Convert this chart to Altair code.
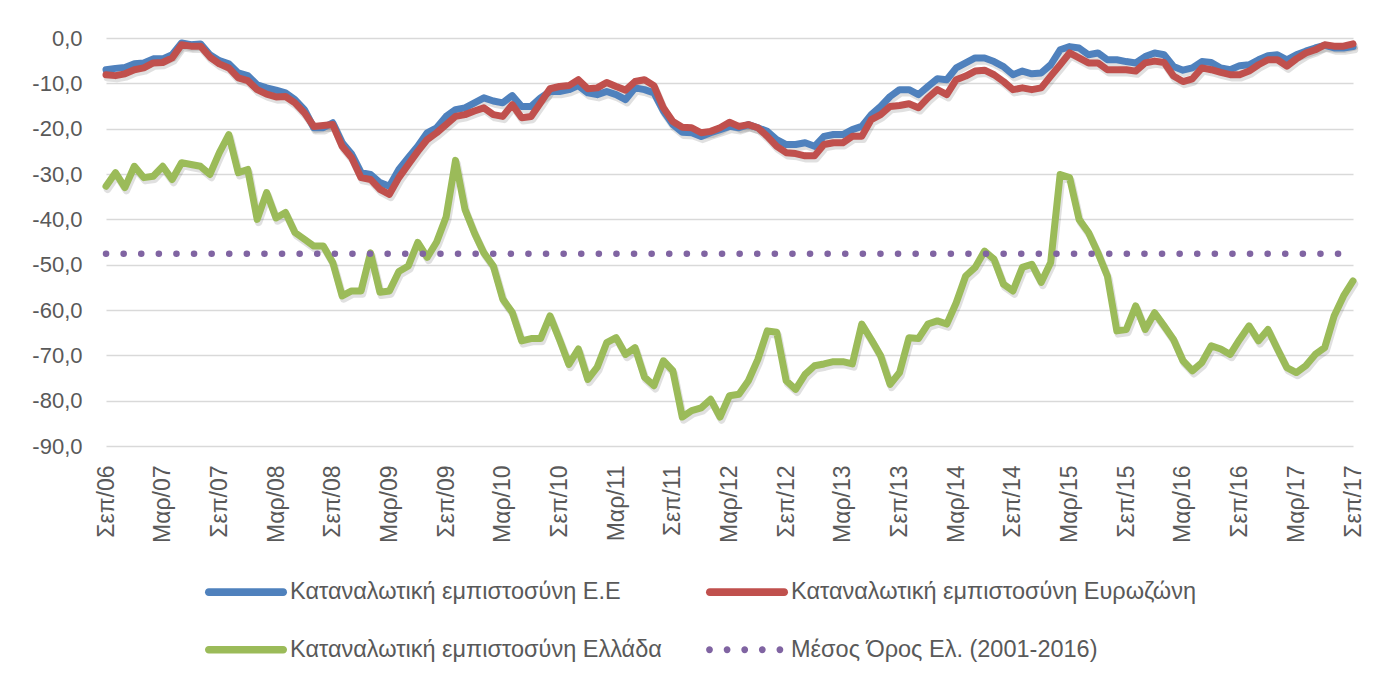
import altair as alt
import pandas as pd

FONT = "'Liberation Sans', sans-serif"
TEXT_COLOR = "#595959"
GRID_COLOR = "#d9d9d9"

# --- categories (monthly, Sep 2006 .. Sep 2017) ---
MONTH_NAMES = ["Ιαν", "Φεβ", "Μαρ", "Απρ", "Μαϊ", "Ιουν", "Ιουλ", "Αυγ", "Σεπ", "Οκτ", "Νοε", "Δεκ"]
START_MONTH_INDEX = 8   # September
START_YEAR = 2006
N_MONTHS = 133
months = [f"{MONTH_NAMES[(START_MONTH_INDEX + i) % 12]}/{(START_YEAR + (START_MONTH_INDEX + i) // 12) % 100:02d}"
          for i in range(N_MONTHS)]
tick_labels = months[::6]

# --- series names ---
S_EU = "Καταναλωτική εμπιστοσύνη Ε.Ε"
S_EA = "Καταναλωτική εμπιστοσύνη Ευρωζώνη"
S_GR = "Καταναλωτική εμπιστοσύνη Ελλάδα"
S_MEAN = "Μέσος Όρος Ελ. (2001-2016)"
SERIES = [S_EU, S_EA, S_GR, S_MEAN]
COLORS = ["#4f81bd", "#c0504d", "#9bbb59", "#8064a2"]

# --- values ---
eu = [-7.0, -6.7, -6.5, -5.7, -5.5, -4.6, -4.6, -3.7, -1.1, -1.5,
      -1.3, -3.7, -5.0, -5.7, -7.7, -8.3, -10.3, -11.0, -11.5, -12.1,
      -13.6, -15.8, -19.8, -19.8, -18.7, -23.1, -25.6, -29.7, -30.1, -31.9,
      -32.7, -29.0, -26.4, -23.9, -20.9, -19.8, -17.3, -15.8, -15.4, -14.3,
      -13.2, -13.9, -14.3, -12.7, -15.1, -15.1, -13.2, -11.8, -11.8, -11.4,
      -10.5, -12.1, -12.5, -11.8, -12.5, -13.6, -11.0, -11.4, -12.1, -16.1,
      -19.1, -20.8, -20.9, -21.7, -20.9, -20.2, -19.5, -19.8, -19.1, -19.8,
      -20.6, -22.4, -23.5, -23.5, -23.1, -23.9, -21.7, -21.3, -21.3, -20.2,
      -19.5, -16.9, -15.1, -12.9, -11.4, -11.4, -12.5, -10.7, -9.0, -9.2,
      -6.6, -5.5, -4.4, -4.4, -5.2, -6.3, -8.1, -7.3, -7.9, -7.7,
      -5.9, -2.6, -1.9, -2.2, -3.7, -3.3, -4.8, -4.8, -5.2, -5.5,
      -4.1, -3.3, -3.7, -6.3, -7.1, -6.6, -5.2, -5.4, -6.6, -7.0,
      -6.1, -5.9, -4.8, -3.9, -3.7, -4.8, -3.7, -2.9, -2.2, -1.6,
      -2.2, -2.2, -1.9]

ea = [-8.1, -8.3, -7.9, -7.0, -6.6, -5.5, -5.4, -4.4, -1.5, -1.8,
      -1.8, -4.2, -5.7, -6.6, -8.8, -9.4, -11.4, -12.4, -13.0, -12.9,
      -14.3, -16.5, -19.5, -19.3, -19.1, -23.9, -26.4, -30.8, -31.2, -33.4,
      -34.5, -30.8, -27.9, -25.0, -22.4, -20.9, -19.1, -17.3, -16.9, -16.1,
      -15.4, -16.9, -17.3, -14.7, -17.6, -17.3, -14.3, -11.2, -10.7, -10.5,
      -9.2, -11.2, -11.0, -9.8, -10.7, -11.5, -9.6, -9.2, -10.5, -15.4,
      -18.4, -19.7, -19.8, -20.9, -20.6, -19.8, -18.6, -19.5, -19.1, -19.8,
      -21.7, -23.9, -25.3, -25.5, -26.0, -26.0, -23.5, -23.1, -23.1, -21.7,
      -21.7, -18.0, -16.9, -15.1, -14.9, -14.5, -15.4, -13.2, -11.4, -12.5,
      -9.2, -8.4, -7.3, -7.1, -8.1, -9.6, -11.4, -11.0, -11.4, -11.0,
      -8.4, -5.9, -3.3, -4.4, -5.5, -5.5, -7.0, -7.0, -7.0, -7.3,
      -5.5, -5.1, -5.4, -8.4, -9.6, -9.0, -6.6, -7.0, -7.6, -8.1,
      -8.1, -7.3, -5.9, -4.8, -4.8, -6.2, -4.6, -3.3, -2.6, -1.5,
      -1.8, -1.8, -1.3]

gr = [-32.7, -29.7, -33.0, -28.3, -30.8, -30.5, -28.3, -31.2, -27.5, -27.9,
      -28.3, -30.1, -25.3, -21.3, -29.7, -29.0, -40.0, -34.1, -39.7, -38.5,
      -42.9, -44.4, -45.9, -45.9, -49.5, -56.9, -55.8, -55.8, -47.4, -56.1,
      -55.8, -51.5, -50.3, -45.1, -48.4, -45.0, -39.5, -27.0, -37.8, -43.0,
      -47.4, -50.3, -57.6, -60.5, -66.8, -66.3, -66.3, -61.3, -66.5, -72.0,
      -68.6, -75.3, -72.6, -67.2, -66.1, -69.8, -68.3, -74.8, -76.7, -71.2,
      -73.4, -83.6, -82.2, -81.6, -79.7, -83.6, -78.9, -78.6, -75.6, -70.9,
      -64.6, -64.9, -75.6, -77.5, -74.2, -72.3, -71.9, -71.4, -71.4, -71.9,
      -63.1, -66.5, -70.1, -76.4, -73.8, -66.1, -66.3, -63.1, -62.4, -63.1,
      -58.4, -52.5, -50.6, -47.0, -48.8, -54.3, -55.8, -50.6, -49.9, -53.9,
      -49.5, -30.1, -30.8, -40.0, -42.9, -47.4, -52.5, -64.6, -64.3, -59.1,
      -64.3, -60.6, -63.5, -66.5, -71.2, -73.4, -71.6, -67.9, -68.6, -69.8,
      -66.5, -63.5, -66.8, -64.3, -68.6, -72.7, -73.8, -72.3, -69.8, -68.3,
      -61.3, -56.9, -53.6]

gr_mean = -47.6  # constant average 2001-2016

# --- table built from the arrays ---
rows = []
for name, vals in [(S_EU, eu), (S_EA, ea), (S_GR, gr), (S_MEAN, [gr_mean] * N_MONTHS)]:
    for m, v in zip(months, vals):
        rows.append({"month": m, "series": name, "value": v})
df = pd.DataFrame(rows)

# --- encodings ---
x_enc = alt.X(
    "month:N",
    scale=alt.Scale(type="point", padding=0, domain=months),
    axis=alt.Axis(values=tick_labels, labelAngle=270, labelPadding=19, ticks=False,
                  domain=False, grid=False, labelFont=FONT, labelFontSize=23,
                  labelColor=TEXT_COLOR, title=None, labelOverlap=False),
)
y_enc = alt.Y(
    "value:Q",
    scale=alt.Scale(domain=[-90, 0], nice=False, zero=False),
    axis=alt.Axis(values=list(range(-90, 1, 10)),
                  labelExpr="(datum.value < 0 ? '-' : '') + replace(format(abs(datum.value), '.1f'), '.', ',')",
                  grid=True, gridColor=GRID_COLOR, gridWidth=1.5, ticks=False, domain=False,
                  labelPadding=24, labelFont=FONT, labelFontSize=22, labelColor=TEXT_COLOR,
                  title=None),
)

base = alt.Chart(df).encode(x=x_enc, y=y_enc)

layers = []
# soft shadows
for name in [S_EU, S_EA, S_GR]:
    layers.append(
        base.transform_filter(alt.datum.series == name)
        .mark_line(strokeWidth=7.5, strokeJoin="round", strokeCap="round", color="#000000",
                   opacity=0.12, xOffset=1.5, yOffset=3)
    )
# series lines
for name, col in zip([S_EU, S_EA, S_GR], COLORS[:3]):
    layers.append(
        base.transform_filter(alt.datum.series == name)
        .mark_line(strokeWidth=7, strokeJoin="round", strokeCap="round", color=col)
    )
# dotted average line
layers.append(
    base.transform_filter(alt.datum.series == S_MEAN)
    .mark_line(strokeWidth=6.5, strokeCap="round", strokeDash=[0.1, 17.5], color=COLORS[3])
)

# legend (symbols drawn as custom paths: rounded bars for lines, five dots for the average)
LINE_PATH = "M-3.72,-0.38L3.72,-0.38A0.38,0.38,0,0,1,3.72,0.38L-3.72,0.38A0.38,0.38,0,0,1,-3.72,-0.38Z"
def _dot(cx, r=0.34):
    return f"M{cx - r},0A{r},{r},0,1,0,{cx + r},0A{r},{r},0,1,0,{cx - r},0Z"
DOTS_PATH = "".join(_dot(c) for c in [-3.75, -1.99, -0.23, 1.53, 3.29])
SHAPES = [LINE_PATH, LINE_PATH, LINE_PATH, DOTS_PATH]

leg = alt.Legend(
    title=None, orient="none", legendX=99, legendY=542, columns=2, direction="horizontal",
    symbolSize=400, symbolOffset=29.25, labelOffset=32.25, symbolStrokeWidth=0,
    symbolOpacity=1, labelFont=FONT, labelFontSize=23.5, labelColor=TEXT_COLOR,
    labelLimit=800, rowPadding=33, columnPadding=44, padding=0, gridAlign="each",
)
legend_df = df.drop_duplicates("series")
layers.append(
    alt.Chart(legend_df).mark_point(filled=True, opacity=0).encode(
        x=x_enc, y=y_enc,
        color=alt.Color("series:N", scale=alt.Scale(domain=SERIES, range=COLORS), legend=leg),
        shape=alt.Shape("series:N", scale=alt.Scale(domain=SERIES, range=SHAPES), legend=leg),
    )
)

chart = alt.layer(*layers).properties(
    width=1247, height=408,
    padding={"left": 98, "top": 30, "right": 14, "bottom": 220},
    autosize=alt.AutoSizeParams(type="none"),
    background="white",
).configure_view(stroke=None)

chart.save("out.html", embed_options={"renderer": "svg", "actions": False})
